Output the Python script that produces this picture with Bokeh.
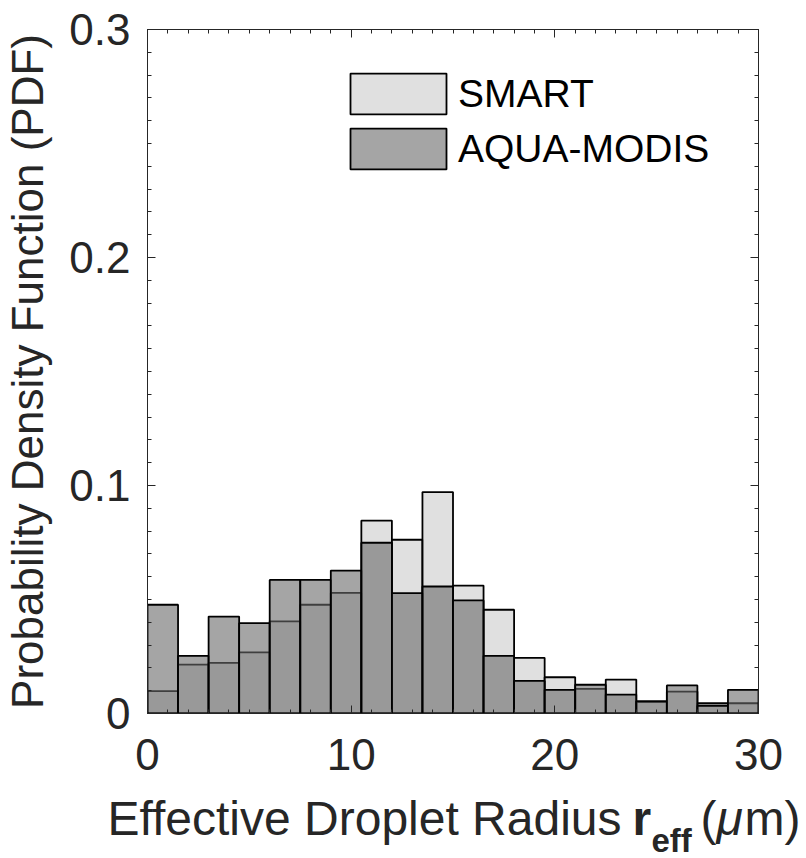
from bokeh.plotting import figure
from bokeh.layouts import column
from bokeh.models import (LinearAxis, SingleIntervalTicker, FixedTicker, CustomJSTickFormatter,
                          Legend, LegendItem, ColumnDataSource, Range1d)
from bokeh.core.properties import value
from bokeh.embed import file_html
from bokeh.resources import INLINE

# ---- data ----
bin_edges = [0.0, 1.5, 3.0, 4.5, 6.0, 7.5, 9.0, 10.5, 12.0, 13.5, 15.0,
             16.5, 18.0, 19.5, 21.0, 22.5, 24.0, 25.5, 27.0, 28.5, 30.0]
smart_pdf = [0.0098, 0.0214, 0.0222, 0.0268, 0.0404, 0.0477, 0.0529, 0.0846,
             0.0762, 0.0971, 0.0561, 0.0455, 0.0244, 0.0159, 0.0108, 0.0149,
             0.0050, 0.0096, 0.0045, 0.0045]
aqua_pdf = [0.0477, 0.0253, 0.0425, 0.0396, 0.0586, 0.0586, 0.0627, 0.0749,
            0.0528, 0.0557, 0.0496, 0.0253, 0.0143, 0.0104, 0.0126, 0.0083,
            0.0054, 0.0123, 0.0034, 0.0104]
series_names = ["SMART", "AQUA-MODIS"]
y_tick_values = [0.0, 0.1, 0.2, 0.3]
y_tick_labels = ["0", "0.1", "0.2", "0.3"]

FONT = "Liberation Sans"
TXT = "#262626"
TICK_FS = "44px"

left = bin_edges[:-1]
right = bin_edges[1:]
src_s = ColumnDataSource(dict(left=left, right=right, top=smart_pdf))
src_a = ColumnDataSource(dict(left=left, right=right, top=aqua_pdf))

p = figure(width=806, height=790, x_range=(0, 30), y_range=(0, 0.3),
           frame_width=611, frame_height=684,
           min_border_left=147, min_border_right=48,
           min_border_top=29, min_border_bottom=77,
           output_backend="svg", toolbar_location=None,
           background_fill_color="white", border_fill_color="white")
p.frame_align = False
p.grid.visible = False
p.outline_line_color = TXT
p.outline_line_width = 1

r_s = p.quad(left="left", right="right", bottom=0, top="top", source=src_s,
             fill_color="#CBCBCB", fill_alpha=0.6, line_color="black",
             line_width=1.8)
r_a = p.quad(left="left", right="right", bottom=0, top="top", source=src_a,
             fill_color="#696969", fill_alpha=0.6, line_color="black",
             line_width=1.8)

def style_axis(ax, show_labels=True):
    ax.axis_line_color = TXT
    ax.axis_line_width = 1
    ax.major_tick_in = 8
    ax.major_tick_out = 0
    ax.minor_tick_in = 4
    ax.minor_tick_out = 0
    ax.major_tick_line_color = TXT
    ax.minor_tick_line_color = TXT
    ax.major_label_text_font = FONT
    ax.major_label_text_color = TXT
    if show_labels:
        ax.major_label_text_font_size = TICK_FS
    else:
        ax.formatter = CustomJSTickFormatter(code="return '';")
        ax.major_label_text_font_size = "1px"
        ax.major_label_standoff = 0

y_minor = [round(i * 0.01, 2) for i in range(31)]

def yticker():
    return FixedTicker(ticks=y_tick_values, minor_ticks=y_minor)

def xticker():
    return SingleIntervalTicker(interval=10, num_minor_ticks=10)

p.xaxis.ticker = xticker()
p.yaxis.ticker = yticker()
p.yaxis.major_label_overrides = {v: s for v, s in zip(y_tick_values, y_tick_labels)}
style_axis(p.xaxis[0])
style_axis(p.yaxis[0])
p.xaxis.major_label_standoff = 25
p.yaxis.major_label_standoff = 17

p.yaxis.axis_label = "Probability Density Function (PDF)"
p.yaxis.axis_label_text_font = FONT
p.yaxis.axis_label_text_font_size = "44px"
p.yaxis.axis_label_text_font_style = "normal"
p.yaxis.axis_label_text_color = TXT
p.yaxis.axis_label_standoff = 14

top_ax = LinearAxis(ticker=xticker())
right_ax = LinearAxis(ticker=yticker())
style_axis(top_ax, False)
style_axis(right_ax, False)
p.add_layout(top_ax, "above")
p.add_layout(right_ax, "right")

# legend (area legend glyphs are inset by 10% on each side)
legend = Legend(items=[LegendItem(label=series_names[0], renderers=[r_s]),
                       LegendItem(label=series_names[1], renderers=[r_a])],
                location=(191, 539), orientation="vertical",
                glyph_width=120, glyph_height=51, label_height=51,
                spacing=4, padding=0, margin=0, label_standoff=0,
                label_text_font=FONT, label_text_font_size="39px",
                label_text_color="black", border_line_color=None,
                background_fill_alpha=0)
p.add_layout(legend)

# x-axis title strip (pixel coordinates of the strip under the plot)
t = figure(width=806, height=68, x_range=Range1d(0, 806), y_range=Range1d(858, 790),
           frame_width=806, frame_height=68,
           min_border=0, output_backend="svg", toolbar_location=None)
t.frame_align = False
t.axis.visible = False
t.grid.visible = False
t.outline_line_color = None

def piece(txt, x, y, style, fs):
    t.text(x=[x], y=[y], text=[txt], text_font=value(FONT), text_font_size=fs,
           text_font_style=style, text_color=TXT, text_baseline="alphabetic",
           text_align="left")

piece("Effective Droplet Radius", 107, 818, "normal", "48px")
piece("r", 632, 818, "bold", "48px")
piece("eff", 651, 840, "bold", "33px")
piece("(", 700, 818, "normal", "48px")
piece("\u03bc", 716, 818, "italic", "48px")
piece("m)", 744, 818, "normal", "48px")

layout = column(p, t, spacing=0)
open("out.html", "w").write(file_html(layout, INLINE))
